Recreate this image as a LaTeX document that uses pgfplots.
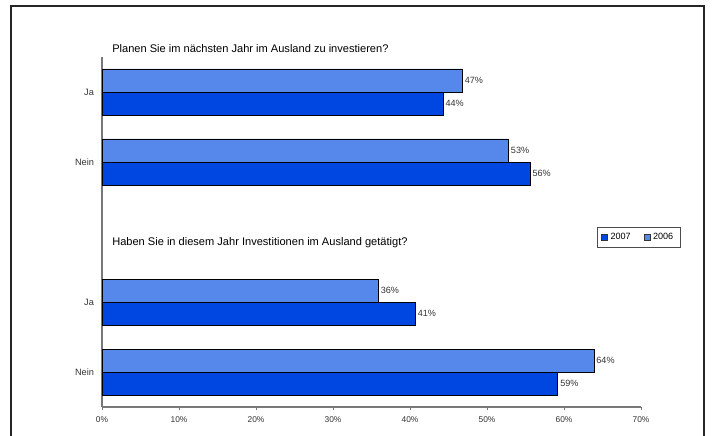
\documentclass[border=0pt]{standalone}
\usepackage{fontspec}
\setmainfont{Liberation Sans}
\usepackage{pgfplots}
\pgfplotsset{compat=1.18}
\definecolor{darkb}{RGB}{0,70,224}
\definecolor{lightb}{RGB}{86,136,236}
\definecolor{axgray}{RGB}{120,120,120}
\pgfplotsset{/pgf/number format/assume math mode=true}
\begin{document}
\begin{tikzpicture}
\draw[line width=0.8pt, black!85] (8.25pt,-5pt) rectangle (528pt,321.75pt);
\begin{axis}[
  at={(76.5pt,21pt)}, anchor=south west,
  scale only axis, width=404.25pt, height=262.5pt,
  xmin=0, xmax=70, ymin=-0.5, ymax=4.5,
  enlargelimits=false,
  xbar, bar width=17.25pt,
  axis x line*=bottom, axis y line*=left,
  axis line style={-, axgray, line width=0.8pt},
  xtick={0,10,...,70},
  xticklabel={\pgfmathprintnumber{\tick}\%},
  x tick label style={font=\fontsize{6.3}{7}\selectfont, text=black!80, yshift=-1.5pt},
  xtick style={axgray, line width=0.6pt},
  tick align=outside, major tick length=2.5pt,
  ytick={0,1,3,4}, yticklabels={Nein,Ja,Nein,Ja},
  y tick label style={font=\fontsize{6.9}{8}\selectfont, text=black!80},
  ytick style={draw=none},
  point meta=x,
  nodes near coords={\pgfmathprintnumber[fixed,precision=0]{\pgfplotspointmeta}\%},
  every node near coord/.append style={font=\fontsize{6.8}{8}\selectfont, text=black!80, anchor=west, inner sep=1.5pt},
  clip=false,
  legend columns=2,
  legend style={at={(axis cs:69.7,1.92)}, anchor=center, draw=black!70, line width=0.6pt,
    font=\fontsize{6.8}{8}\selectfont, inner xsep=3pt, inner ysep=2.5pt,
    /tikz/every even column/.append style={column sep=8pt}},
  legend image code/.code={\draw[#1, draw=black!80, line width=0.4pt] (0pt,-2.2pt) rectangle (4.4pt,2.2pt);},
]
\addplot[draw=black, line width=0.6pt, fill=darkb, bar shift=-8.625pt] coordinates {(44.3,4) (55.6,3) (40.7,1) (59.2,0)};
\addplot[draw=black, line width=0.6pt, fill=lightb, bar shift=8.625pt] coordinates {(46.8,4) (52.8,3) (35.9,1) (63.9,0)};
\legend{2007,2006}
\node[anchor=west, font=\fontsize{8.3}{10}\selectfont, inner sep=0pt] at (axis cs:1.3,4.62) {Planen Sie im nächsten Jahr im Ausland zu investieren?};
\node[anchor=west, font=\fontsize{8.3}{10}\selectfont, inner sep=0pt] at (axis cs:1.3,1.843) {Haben Sie in diesem Jahr Investitionen im Ausland getätigt?};
\end{axis}
\pgfresetboundingbox
\path[use as bounding box] (0,0) rectangle (534pt,326.25pt);
\end{tikzpicture}
\end{document}
